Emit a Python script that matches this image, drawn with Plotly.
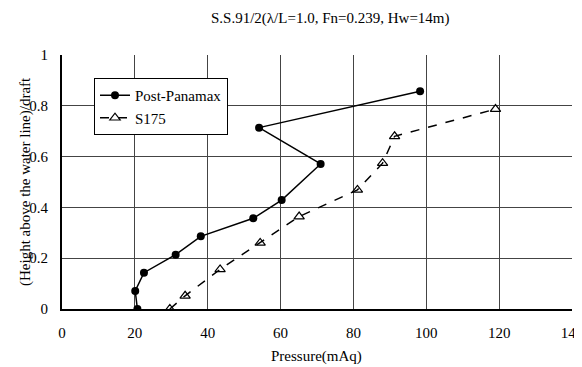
import plotly.graph_objects as go

title_text = "S.S.91/2(λ/L=1.0, Fn=0.239, Hw=14m)"
x_title = "Pressure(mAq)"
y_title = "(Height above the water line)/draft"

pp_name = "Post-Panamax"
pp_pressure = [20.7, 20.1, 22.5, 31.2, 38.1, 52.5, 60.3, 71.0, 54.1, 98.3]
pp_height = [0.0, 0.071, 0.143, 0.214, 0.286, 0.357, 0.429, 0.571, 0.714, 0.857]

s_name = "S175"
s_pressure = [29.6, 33.8, 43.4, 54.4, 65.1, 81.1, 88.0, 91.3, 119.0]
s_height = [0.0, 0.052, 0.156, 0.260, 0.364, 0.469, 0.574, 0.680, 0.787]

x_ticks = [0, 20, 40, 60, 80, 100, 120, 140]
y_ticks = [0, 0.2, 0.4, 0.6, 0.8, 1]
y_ticklabels = ["0", "0.2", "0.4", "0.6", "0.8", "1"]

ff = "Liberation Serif"
fs = 15

fig = go.Figure()
fig.add_trace(go.Scatter(
    x=pp_pressure, y=pp_height, name=pp_name, mode="lines+markers",
    line=dict(color="black", width=1.5),
    marker=dict(symbol="circle", size=8, color="black"),
))
fig.add_trace(go.Scatter(
    x=s_pressure, y=s_height, name=s_name, mode="lines+markers",
    line=dict(color="black", width=1.5, dash="dash"),
    marker=dict(symbol="triangle-up-open", size=9, color="black",
                line=dict(width=1.2)),
))

# the page body has an 8px default margin, so the figure is drawn 8px smaller
# and every page position is shifted by -8
OFF = 8
W, H = 582 - OFF, 367 - OFF
L, T = 62 - OFF, 55 - OFF
RIGHT, BOTTOM = 572 - OFF, 309 - OFF
R, B = W - RIGHT, H - BOTTOM
pw, ph = W - L - R, H - T - B


def px_x(p):
    return (p - OFF - L) / pw


def px_y(p):
    return 1 - (p - OFF - T) / ph


fig.update_layout(
    width=W, height=H,
    margin=dict(l=L, r=R, t=T, b=B, autoexpand=False),
    paper_bgcolor="white", plot_bgcolor="white",
    font=dict(family=ff, size=fs, color="black"),
    showlegend=True,
    legend=dict(x=px_x(94), y=px_y(78), xanchor="left", yanchor="top",
                bgcolor="white", bordercolor="black", borderwidth=1,
                font=dict(family=ff, size=fs), tracegroupgap=0,
                itemwidth=30),
)
fig.add_annotation(text=title_text, x=px_x(330), y=px_y(18),
                   xref="paper", yref="paper", showarrow=False,
                   xanchor="center", yanchor="middle",
                   font=dict(family=ff, size=fs))
fig.add_annotation(text=x_title, x=px_x(316), y=px_y(356),
                   xref="paper", yref="paper", showarrow=False,
                   xanchor="center", yanchor="middle",
                   font=dict(family=ff, size=fs))
fig.add_annotation(text=y_title, x=px_x(25), y=px_y(182),
                   xref="paper", yref="paper", showarrow=False, textangle=-90,
                   xanchor="center", yanchor="middle",
                   font=dict(family=ff, size=fs))

fig.update_xaxes(
    range=[0, 140], tickvals=x_ticks, showgrid=True, gridcolor="#444", gridwidth=1,
    showline=True, linecolor="black", linewidth=2, mirror=False, zeroline=False,
    ticks="", automargin=False, ticklabelstandoff=9, ticklabeloverflow="allow",
    tickfont=dict(family=ff, size=fs),
)
fig.update_yaxes(
    range=[0, 1], tickvals=y_ticks, ticktext=y_ticklabels, showgrid=True,
    gridcolor="#444", gridwidth=1,
    showline=True, linecolor="black", linewidth=2, mirror=False, zeroline=False,
    ticks="", automargin=False, ticklabelstandoff=9,
    tickfont=dict(family=ff, size=fs),
)

fig.write_html("out.html")
